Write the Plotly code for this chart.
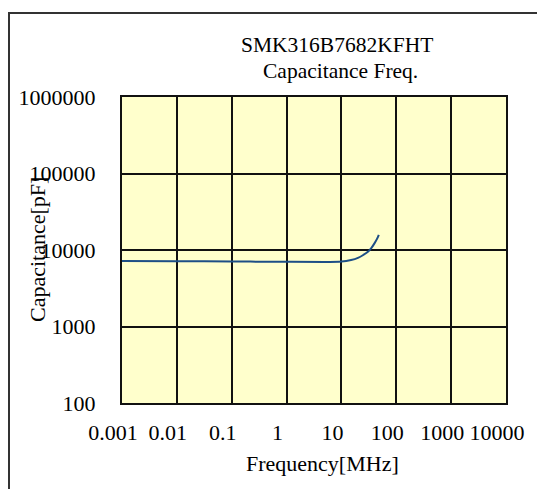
import plotly.graph_objects as go

# Data
freq_mhz = [0.001, 0.01, 0.1, 1, 5, 10, 15, 20, 25, 30, 35, 40, 45, 48]
cap_pf = [7200, 7150, 7080, 7000, 6980, 7050, 7400, 7900, 8600, 9400, 10600, 12200, 14200, 15800]

x_tickvals = [0.001, 0.01, 0.1, 1, 10, 100, 1000, 10000]
x_ticktext = ["0.001", "0.01", "0.1", "1", "10", "100", "1000", "10000"]
y_tickvals = [100, 1000, 10000, 100000, 1000000]
y_ticktext = ["100", "1000", "10000", "100000", "1000000"]

title_line1 = "SMK316B7682KFHT"
title_line2 = "Capacitance Freq."
x_title = "Frequency[MHz]"
y_title = "Capacitance[pF]"

FONT = "Liberation Serif, Times New Roman, serif"
FS = 22

W, H = 537, 489
PL, PT, PR, PB = 122, 97, 506, 403
PW, PH = PR - PL, PB - PT


def px(sx):
    return (sx - PL) / PW


def py(sy):
    return (PB - sy) / PH


fig = go.Figure()
fig.add_trace(go.Scatter(
    x=freq_mhz, y=cap_pf, mode="lines",
    line=dict(color="#1d4f86", width=2, shape="spline"),
    showlegend=False, hoverinfo="skip",
))

axis_common = dict(
    type="log",
    showline=True, mirror=True, linecolor="#111111", linewidth=2,
    showgrid=True, gridcolor="#111111", gridwidth=2,
    zeroline=False, ticks="",
    tickfont=dict(family=FONT, size=FS, color="black"),
)

fig.update_layout(
    width=W, height=H,
    margin=dict(l=PL, r=W - PR, t=PT, b=H - PB),
    paper_bgcolor="white",
    plot_bgcolor="#FFFFCC",
    font=dict(family=FONT, size=FS, color="black"),
    xaxis=dict(range=[-3, 4], tickvals=x_tickvals, ticktext=x_ticktext,
               tickangle=0, ticklabelstandoff=9, ticklabelshift=-9, **axis_common),
    yaxis=dict(range=[2, 6], tickvals=y_tickvals, ticktext=y_ticktext,
               ticklabelstandoff=20, **axis_common),
)

annotations = [
    dict(text=title_line1, x=px(337), y=py(45), xref="paper", yref="paper",
         showarrow=False, xanchor="center", yanchor="middle", font=dict(family=FONT, size=21.5)),
    dict(text=title_line2, x=px(340), y=py(71), xref="paper", yref="paper",
         showarrow=False, xanchor="center", yanchor="middle", font=dict(family=FONT, size=21.5)),
    dict(text=x_title, x=px(322), y=py(463), xref="paper", yref="paper",
         showarrow=False, xanchor="center", yanchor="middle", font=dict(family=FONT, size=FS)),
    dict(text=y_title, x=px(37), y=0.5, xref="paper", yref="paper", textangle=-90,
         showarrow=False, xanchor="center", yanchor="middle", font=dict(family=FONT, size=FS)),
]
fig.update_layout(annotations=annotations)

# outer frame (extends beyond the window on the right and bottom)
fig.add_shape(type="rect", xref="paper", yref="paper",
              x0=px(9), x1=px(560), y0=py(520), y1=py(13),
              line=dict(color="#333333", width=2), layer="below")

fig.write_html("out.html",
               config={"displayModeBar": False},
               post_script="document.body.style.margin='0';document.body.style.overflow='hidden';")
